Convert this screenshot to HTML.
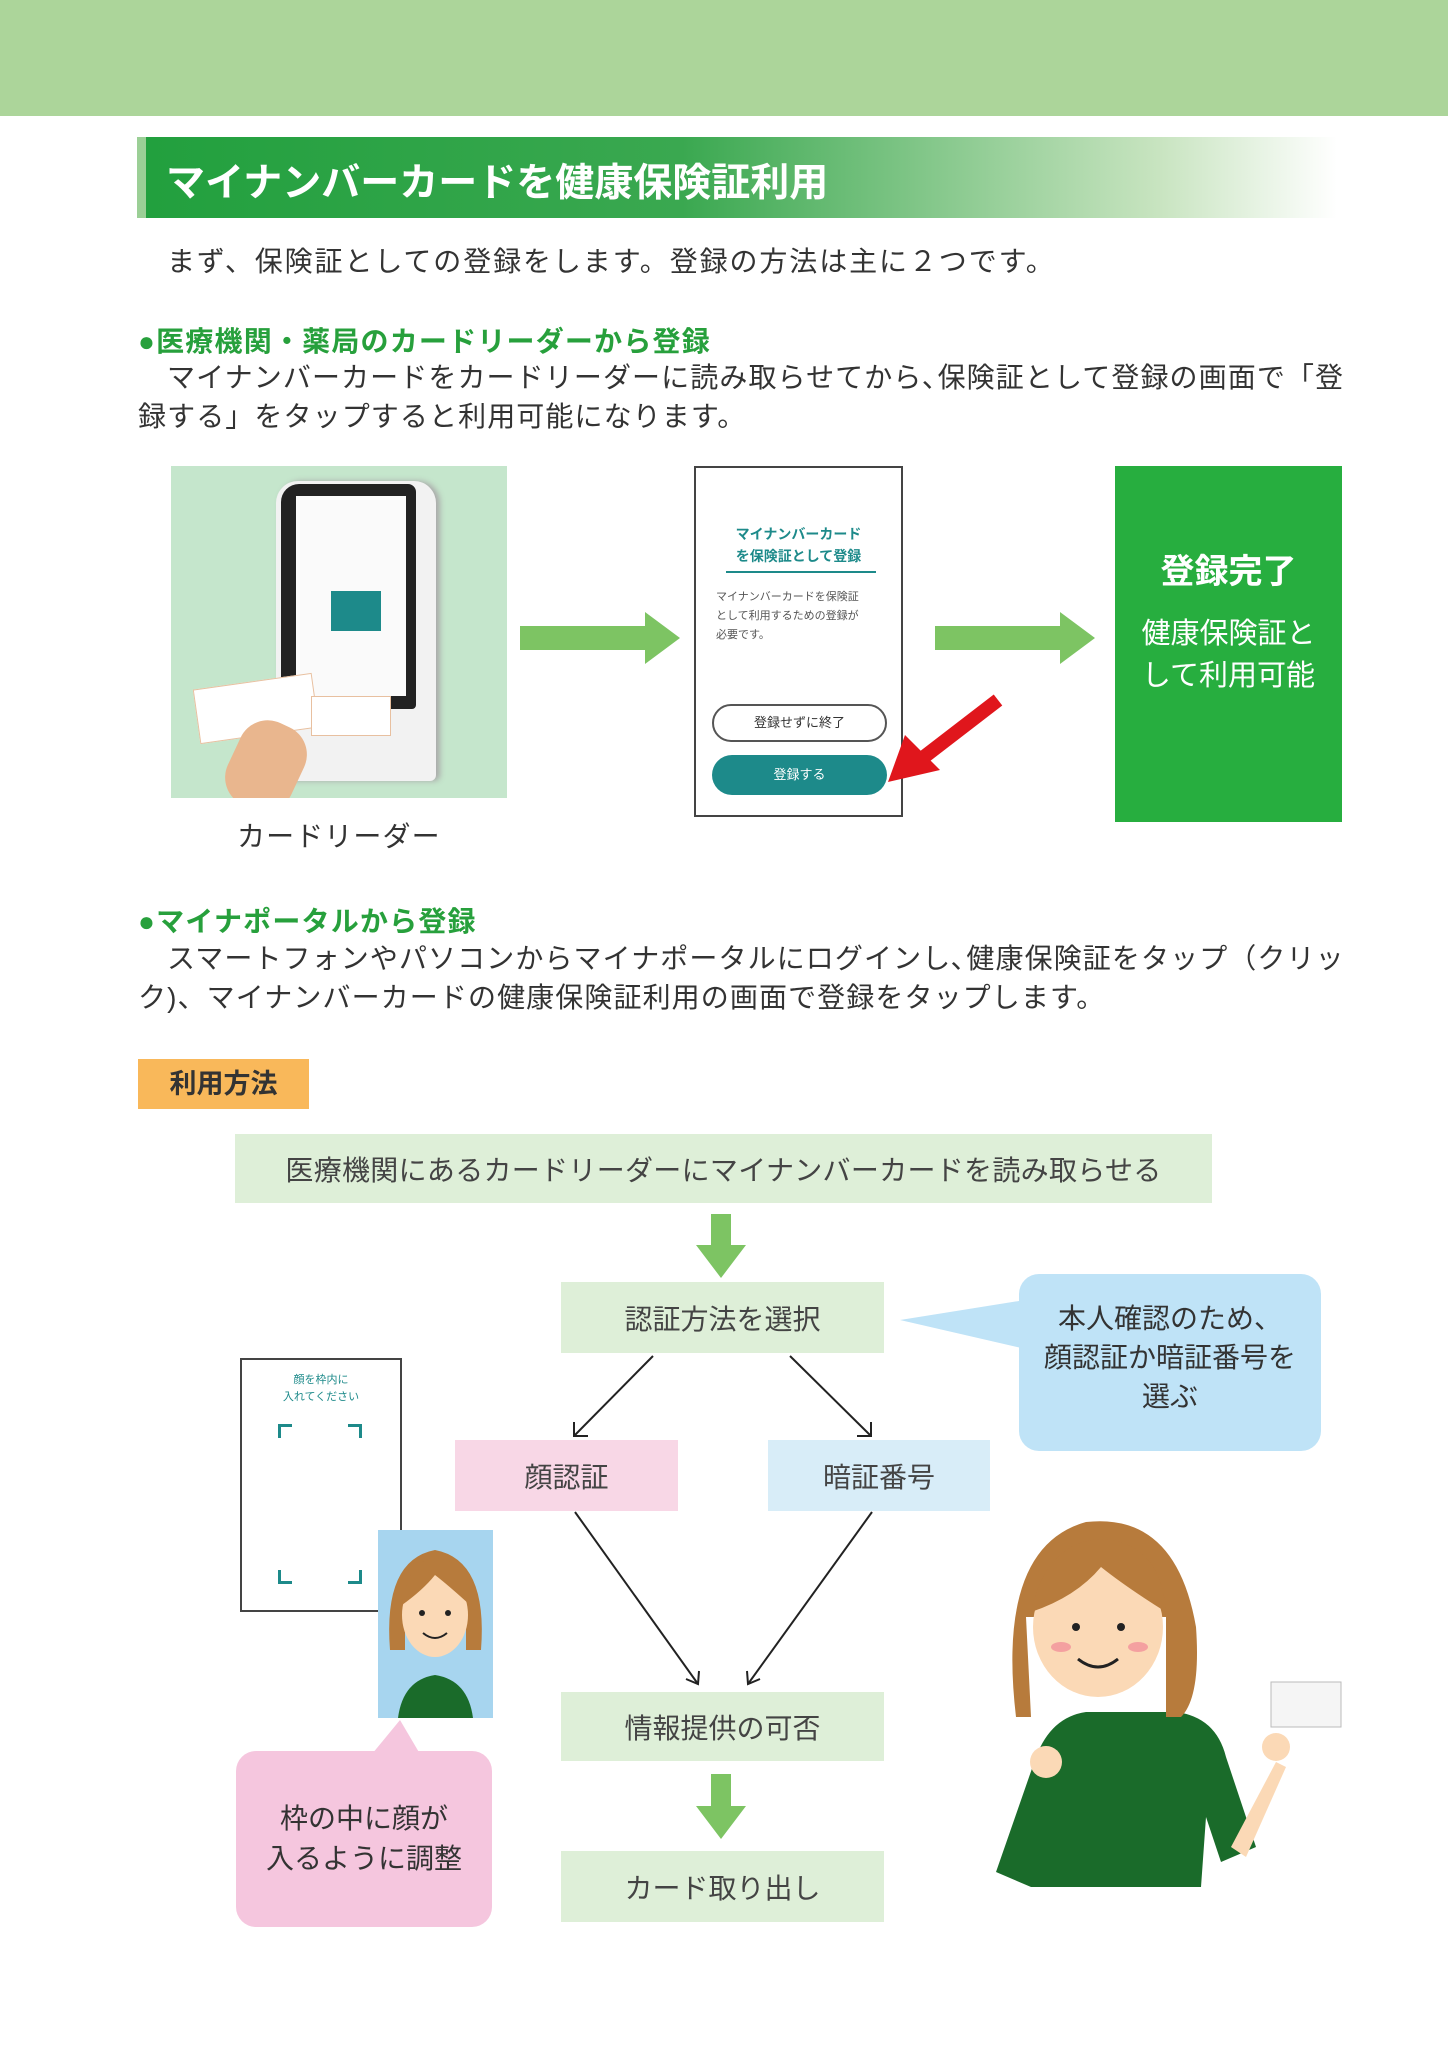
<!DOCTYPE html>
<html><head><meta charset="utf-8"><style>
*{margin:0;padding:0;box-sizing:border-box}
body{width:1448px;height:2048px;position:relative;background:#fff;font-family:"Liberation Sans","Noto Sans CJK JP",sans-serif;color:#333;overflow:hidden}
.a{position:absolute}
.t{font-size:28px;line-height:39px;white-space:nowrap;letter-spacing:1.1px}
.h{font-size:28px;font-weight:bold;color:#27a03c;white-space:nowrap;letter-spacing:1.2px}
.box{position:absolute;display:flex;align-items:center;justify-content:center;font-size:28px;color:#444}
.g{background:#deefd8}
</style></head><body>
<div class="a" style="left:0;top:0;width:1448px;height:116px;background:#acd59a"></div>
<div class="a" style="left:137px;top:137px;width:1200px;height:81px;background:linear-gradient(90deg,#22a03e 0%,#3aa850 45%,#c8e4c0 85%,#fff 100%);border-left:9px solid #9bcf96"></div>
<div class="a" style="left:166px;top:152px;font-size:39px;font-weight:bold;color:#fff;white-space:nowrap">マイナンバーカードを健康保険証利用</div>
<div class="a t" style="left:167px;top:242px;letter-spacing:1.9px">まず、保険証としての登録をします。登録の方法は主に２つです。</div>
<div class="a h" style="left:138px;top:320px">●医療機関・薬局のカードリーダーから登録</div>
<div class="a t" style="left:167px;top:358px">マイナンバーカードをカードリーダーに読み取らせてから､保険証として登録の画面で「登</div>
<div class="a t" style="left:138px;top:397px">録する」をタップすると利用可能になります。</div>
<!-- photo -->
<div class="a" style="left:171px;top:466px;width:336px;height:332px;background:#c5e6cc;overflow:hidden">
 <div class="a" style="left:105px;top:15px;width:160px;height:300px;background:#f2f2f2;border-radius:22px 22px 6px 6px;box-shadow:4px 0 6px #aaa"></div>
 <div class="a" style="left:110px;top:18px;width:135px;height:225px;background:#222;border-radius:18px 8px 4px 4px"></div>
 <div class="a" style="left:125px;top:30px;width:110px;height:200px;background:#fafafa"></div>
 <div class="a" style="left:160px;top:125px;width:50px;height:40px;background:#1d8a8a"></div>
 <div class="a" style="left:25px;top:215px;width:120px;height:55px;background:#fff;transform:rotate(-8deg);border:1px solid #e8c0a0"></div>
 <div class="a" style="left:140px;top:230px;width:80px;height:40px;background:#fff;border:1px solid #e8c0a0"></div>
 <div class="a" style="left:60px;top:255px;width:70px;height:90px;background:#e9b68e;border-radius:30px;transform:rotate(25deg)"></div>
</div>
<div class="a t" style="left:237px;top:817px">カードリーダー</div>
<svg class="a" style="left:515px;top:610px" width="170" height="56"><polygon points="5,16 130,16 130,2 165,28 130,54 130,40 5,40" fill="#7dc463"/></svg>
<svg class="a" style="left:930px;top:610px" width="170" height="56"><polygon points="5,16 130,16 130,2 165,28 130,54 130,40 5,40" fill="#7dc463"/></svg>
<!-- screen -->
<div class="a" style="left:694px;top:466px;width:209px;height:351px;border:2px solid #444;background:#fff">
 <div class="a" style="left:0;top:55px;width:205px;text-align:center;font-size:14px;line-height:22px;color:#1d8a8a;font-weight:bold">マイナンバーカード<br>を保険証として登録</div>
 <div class="a" style="left:30px;top:103px;width:150px;height:2px;background:#1d8a8a"></div>
 <div class="a" style="left:20px;top:120px;font-size:11px;line-height:19px;color:#555">マイナンバーカードを保険証<br>として利用するための登録が<br>必要です。</div>
 <div class="a" style="left:16px;top:236px;width:175px;height:38px;border:2px solid #555;border-radius:20px;text-align:center;line-height:34px;font-size:13px">登録せずに終了</div>
 <div class="a" style="left:16px;top:287px;width:175px;height:40px;background:#1d8a8a;border-radius:20px;text-align:center;line-height:40px;font-size:13px;color:#fff">登録する</div>
</div>
<svg class="a" style="left:880px;top:690px" width="130" height="100"><line x1="118" y1="10" x2="40" y2="70" stroke="#e0161c" stroke-width="14"/><polygon points="8,92 25,45 60,80" fill="#e0161c"/></svg>
<div class="a" style="left:1115px;top:466px;width:227px;height:356px;background:#27ae3f;color:#fff;text-align:center">
 <div style="margin-top:78px;font-size:34px;font-weight:bold">登録完了</div>
 <div style="margin-top:20px;font-size:29px;line-height:42px">健康保険証と<br>して利用可能</div>
</div>
<div class="a h" style="left:138px;top:900px">●マイナポータルから登録</div>
<div class="a t" style="left:167px;top:939px">スマートフォンやパソコンからマイナポータルにログインし､健康保険証をタップ（クリッ</div>
<div class="a t" style="left:138px;top:978px">ク)、マイナンバーカードの健康保険証利用の画面で登録をタップします。</div>
<div class="a" style="left:138px;top:1059px;width:171px;height:50px;background:#f9b85a;font-size:27px;font-weight:bold;line-height:50px;text-align:center;color:#333">利用方法</div>
<div class="box g" style="left:235px;top:1134px;width:977px;height:69px;letter-spacing:0.3px">医療機関にあるカードリーダーにマイナンバーカードを読み取らせる</div>
<svg class="a" style="left:0;top:0" width="1448" height="2048">
 <polygon points="711,1214 731,1214 731,1245 746,1245 721,1278 696,1245 711,1245" fill="#7dc463"/>
 <polygon points="711,1774 731,1774 731,1806 746,1806 721,1839 696,1806 711,1806" fill="#7dc463"/>
 <g stroke="#222" stroke-width="2" fill="none">
  <line x1="653" y1="1356" x2="574" y2="1436"/><polyline points="574,1422 574,1436 588,1436"/>
  <line x1="790" y1="1356" x2="871" y2="1436"/><polyline points="857,1436 871,1436 871,1422"/>
  <line x1="575" y1="1512" x2="698" y2="1684"/><polyline points="686,1679 698,1684 699,1671"/>
  <line x1="872" y1="1512" x2="748" y2="1684"/><polyline points="747,1671 748,1684 760,1679"/>
 </g>
 <polygon points="1025,1300 900,1320 1030,1350" fill="#bfe3f7"/>
 <polygon points="372,1754 400,1720 420,1754" fill="#f5c6de"/>
</svg>
<div class="box g" style="left:561px;top:1282px;width:323px;height:71px">認証方法を選択</div>
<div class="a" style="left:1019px;top:1274px;width:302px;height:177px;background:#bfe3f7;border-radius:20px;font-size:28px;line-height:39px;text-align:center;padding-top:25px;color:#333">本人確認のため、<br>顔認証か暗証番号を<br>選ぶ</div>
<div class="box" style="left:455px;top:1440px;width:223px;height:71px;background:#f8d7e6">顔認証</div>
<div class="box" style="left:768px;top:1440px;width:222px;height:71px;background:#d8edf8">暗証番号</div>
<div class="box g" style="left:561px;top:1692px;width:323px;height:69px">情報提供の可否</div>
<div class="box g" style="left:561px;top:1851px;width:323px;height:71px">カード取り出し</div>
<!-- phone frame -->
<div class="a" style="left:240px;top:1358px;width:162px;height:254px;border:2px solid #444;background:#fff">
 <div style="text-align:center;font-size:11px;color:#1d8a8a;margin-top:12px;line-height:17px">顔を枠内に<br>入れてください</div>
 <div class="a" style="left:36px;top:64px;width:14px;height:14px;border-left:3px solid #1d8a8a;border-top:3px solid #1d8a8a"></div>
 <div class="a" style="left:106px;top:64px;width:14px;height:14px;border-right:3px solid #1d8a8a;border-top:3px solid #1d8a8a"></div>
 <div class="a" style="left:36px;top:210px;width:14px;height:14px;border-left:3px solid #1d8a8a;border-bottom:3px solid #1d8a8a"></div>
 <div class="a" style="left:106px;top:210px;width:14px;height:14px;border-right:3px solid #1d8a8a;border-bottom:3px solid #1d8a8a"></div>
</div>
<svg class="a" style="left:378px;top:1530px" width="115" height="188">
 <rect width="115" height="188" fill="#a7d5ef"/>
 <path d="M20,188 Q25,150 57,145 Q90,150 95,188Z" fill="#1a6b2a"/>
 <path d="M12,120 Q5,30 57,20 Q110,30 103,120 L88,120 L88,70 L27,70 L27,120Z" fill="#b77b3c"/>
 <ellipse cx="57" cy="85" rx="33" ry="42" fill="#fbd9b6"/>
 <path d="M24,75 Q30,30 57,28 Q90,30 92,75 Q70,55 57,45 Q45,60 24,75Z" fill="#b77b3c"/>
 <circle cx="44" cy="83" r="3" fill="#222"/><circle cx="70" cy="83" r="3" fill="#222"/>
 <path d="M45,103 Q57,113 69,103" stroke="#222" stroke-width="2" fill="none"/>
</svg>
<div class="a" style="left:236px;top:1751px;width:256px;height:176px;background:#f5c6de;border-radius:20px;font-size:28px;line-height:40px;text-align:center;padding-top:48px;color:#333">枠の中に顔が<br>入るように調整</div>
<!-- woman -->
<svg class="a" style="left:976px;top:1517px" width="370" height="370">
 <path d="M55,370 L20,355 L60,240 Q75,200 110,195 L200,195 Q240,200 250,240 L280,330 L245,345 L230,300 L225,370Z" fill="#1a6b2a"/>
 <path d="M255,330 L300,245 L310,250 L270,340Z" fill="#fbd9b6"/>
 <rect x="295" y="165" width="70" height="45" fill="#f5f5f5" stroke="#bbb"/>
 <circle cx="300" cy="230" r="14" fill="#fbd9b6"/>
 <circle cx="70" cy="245" r="16" fill="#fbd9b6"/>
 <path d="M40,200 Q20,30 110,5 Q200,-5 220,110 Q225,180 205,200 L190,200 L190,100 L50,100 L55,200Z" fill="#b77b3c"/>
 <ellipse cx="122" cy="110" rx="65" ry="70" fill="#fbd9b6"/>
 <path d="M55,95 Q70,25 125,22 Q185,25 190,95 Q150,70 125,50 Q100,80 55,95Z" fill="#b77b3c"/>
 <circle cx="100" cy="110" r="4" fill="#222"/><circle cx="145" cy="110" r="4" fill="#222"/>
 <ellipse cx="85" cy="130" rx="10" ry="5" fill="#f4a0a0"/><ellipse cx="162" cy="130" rx="10" ry="5" fill="#f4a0a0"/>
 <path d="M102,142 Q122,158 142,142" stroke="#222" stroke-width="3" fill="none"/>
</svg>
</body></html>
